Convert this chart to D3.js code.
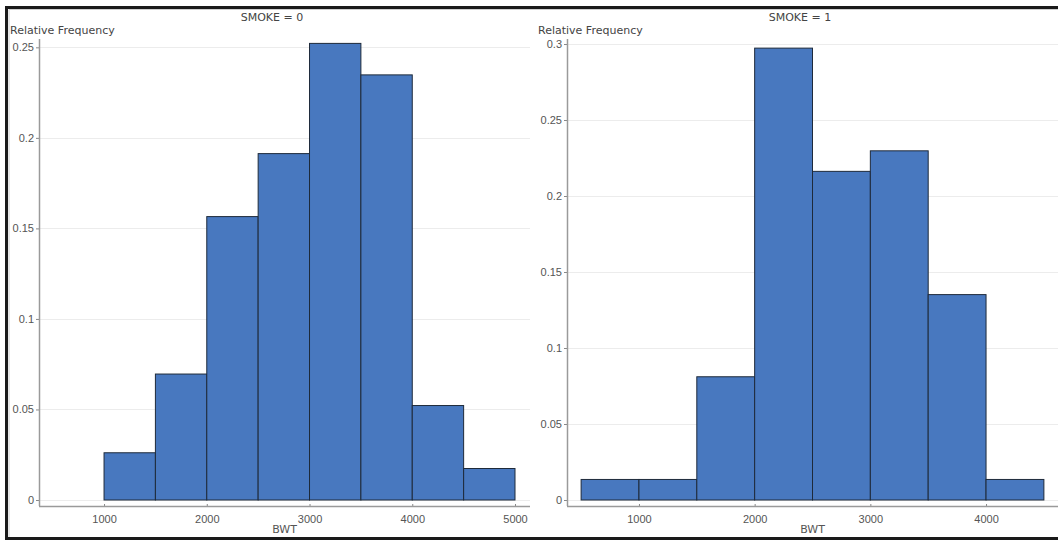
<!DOCTYPE html>
<html>
<head>
<meta charset="utf-8">
<script src="https://cdn.jsdelivr.net/npm/d3@7"></script>
<style>
  html, body { margin: 0; padding: 0; background: #fff; }
  svg { display: block; font-family: "DejaVu Sans", Verdana, sans-serif; }
</style>
</head>
<body>
<svg id="chart" width="1058" height="540"></svg>
<script>
// Birth-weight bins (grams) and relative frequencies by smoking status
const binEdges0 = [1000, 1500, 2000, 2500, 3000, 3500, 4000, 4500, 5000];
const relFreq0  = [3/115, 8/115, 18/115, 22/115, 29/115, 27/115, 6/115, 2/115];

const binEdges1 = [500, 1000, 1500, 2000, 2500, 3000, 3500, 4000, 4500];
const relFreq1  = [1/74, 1/74, 6/74, 22/74, 16/74, 17/74, 10/74, 1/74];

const xTicks0 = [1000, 2000, 3000, 4000, 5000];
const xTicks1 = [1000, 2000, 3000, 4000];
const yTicks0 = [0, 0.05, 0.1, 0.15, 0.2, 0.25];
const yTicks1 = [0, 0.05, 0.1, 0.15, 0.2, 0.25, 0.3];

const panelTitles = ["SMOKE = 0", "SMOKE = 1"];
const xTitle = "BWT";
const yTitle = "Relative Frequency";

const svg = d3.select("#chart");
const fontSize = "11px";

const panels = [
  { edges: binEdges0, freq: relFreq0, xt: xTicks0, yt: yTicks0, title: panelTitles[0],
    left: 39, right: 530, xDom: [367, 5146], yDom: [0, 0.2546], titleX: 272, yTitleX: 10 },
  { edges: binEdges1, freq: relFreq1, xt: xTicks1, yt: yTicks1, title: panelTitles[1],
    left: 567, right: 1058, xDom: [378, 4622], yDom: [0, 0.3033], titleX: 800, yTitleX: 538 }
];

const plotTop = 39, zeroY = 500, axisY = 506;

panels.forEach(p => {
  const x = d3.scaleLinear().domain(p.xDom).range([p.left, p.right]);
  const y = d3.scaleLinear().domain(p.yDom).range([zeroY, plotTop]);
  const g = svg.append("g");

  // horizontal gridlines
  g.append("g").selectAll("line").data(p.yt).join("line")
    .attr("x1", p.left).attr("x2", p.right)
    .attr("y1", d => Math.round(y(d)) + 0.5).attr("y2", d => Math.round(y(d)) + 0.5)
    .attr("stroke", "#ececec").attr("stroke-width", 1);

  // histogram bars
  const bins = p.freq.map((f, i) => ({ x0: p.edges[i], x1: p.edges[i + 1], f }));
  g.append("g").selectAll("rect").data(bins).join("rect")
    .attr("x", d => x(d.x0))
    .attr("y", d => y(d.f))
    .attr("width", d => x(d.x1) - x(d.x0))
    .attr("height", d => y(0) - y(d.f))
    .attr("fill", "#4878bf")
    .attr("stroke", "#1e2a3a")
    .attr("stroke-width", 1);

  // y axis
  const yAxis = d3.axisLeft(y).tickValues(p.yt).tickSize(3).tickPadding(2)
    .tickFormat(d => d3.format("~g")(d));
  const ya = g.append("g").attr("transform", `translate(${p.left},0)`).call(yAxis);
  ya.select(".domain").remove();
  ya.selectAll("line").attr("stroke", "#888");
  ya.selectAll("text").attr("fill", "#555").style("font-size", fontSize);
  g.append("line").attr("x1", p.left + 0.5).attr("x2", p.left + 0.5)
    .attr("y1", plotTop).attr("y2", axisY).attr("stroke", "#9a9a9a").attr("stroke-width", 1.5);

  // x axis
  const xAxis = d3.axisBottom(x).tickValues(p.xt).tickSize(3).tickPadding(6)
    .tickFormat(d3.format("d"));
  const xa = g.append("g").attr("transform", `translate(0,${axisY})`).call(xAxis);
  xa.select(".domain").remove();
  xa.selectAll("line").attr("stroke", "#888").attr("y1", -2).attr("y2", 1);
  xa.selectAll("text").attr("fill", "#555").style("font-size", fontSize);
  g.append("line").attr("x1", p.left).attr("x2", p.right)
    .attr("y1", axisY + 0.5).attr("y2", axisY + 0.5).attr("stroke", "#9a9a9a").attr("stroke-width", 1.5);

  // titles
  g.append("text").attr("x", p.titleX).attr("y", 21).attr("text-anchor", "middle")
    .attr("fill", "#444").style("font-size", fontSize).text(p.title);
  g.append("text").attr("x", p.yTitleX).attr("y", 34)
    .attr("fill", "#444").style("font-size", fontSize).text(yTitle);
  g.append("text").attr("x", (p.left + p.right) / 2).attr("y", 533).attr("text-anchor", "middle")
    .attr("fill", "#555").style("font-size", fontSize).text(xTitle);
});

// outer frame
svg.append("path")
  .attr("d", "M9,540 L9,9.5 L1058,9.5")
  .attr("fill", "none").attr("stroke", "#cfcfcf").attr("stroke-width", 1);
svg.append("path")
  .attr("d", "M6.5,540 L6.5,7.5 L1058,7.5")
  .attr("fill", "none").attr("stroke", "#1a1a1a").attr("stroke-width", 3);
svg.append("line").attr("x1", 5).attr("x2", 1058).attr("y1", 538.5).attr("y2", 538.5)
  .attr("stroke", "#1a1a1a").attr("stroke-width", 3);
</script>
</body>
</html>
